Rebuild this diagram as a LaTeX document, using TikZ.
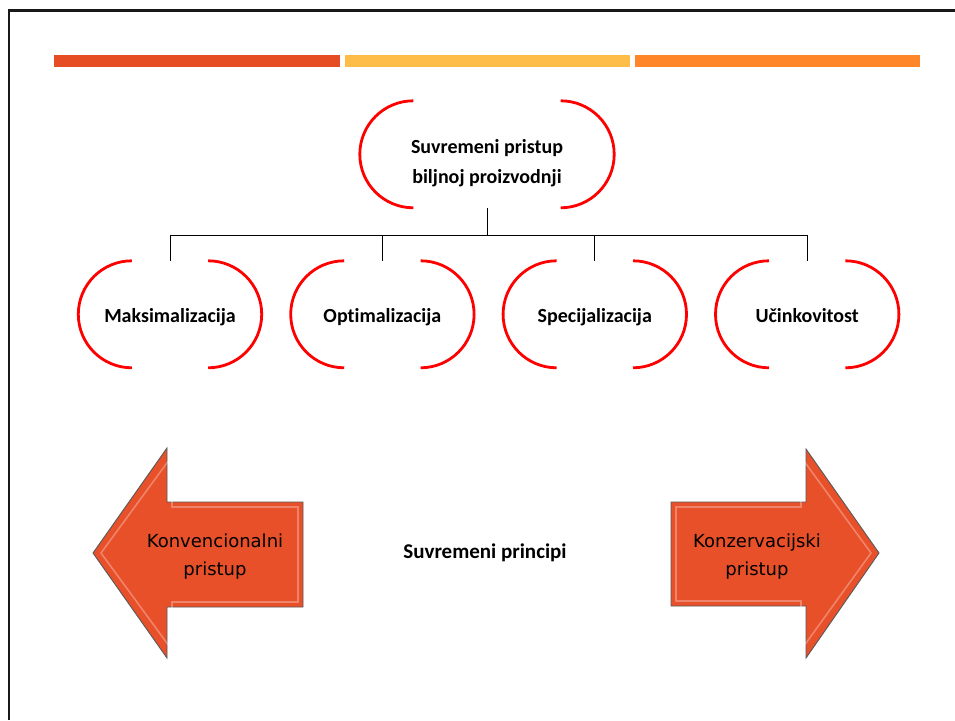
\documentclass[tikz,border=0pt]{standalone}
\usepackage{fontspec}
\setmainfont{Carlito}[RawFeature=-liga]
\newfontfamily\arrowfont{DejaVu Sans}
\usetikzlibrary{positioning}

\definecolor{barred}{HTML}{E64D25}
\definecolor{baryellow}{HTML}{FDBD48}
\definecolor{barorange}{HTML}{FF8629}
\definecolor{arrowfill}{HTML}{E8502A}

\begin{document}
\begin{tikzpicture}[x=1pt,y=1pt,
	approach/.style={minimum width=183pt,minimum height=107pt,inner sep=0pt,align=center,
		text height=20pt,text depth=4pt,font=\bfseries\fontsize{20}{30}\selectfont},
	bracket/.style={draw=red,line width=2.8pt},
	link/.style={draw=black,line width=0.8pt},
	arrowbody/.style={fill=arrowfill,draw=gray!70!black,line width=0.9pt},
	bevel/.style={draw=white,opacity=0.3,line width=1.6pt},
	arrowtext/.style={align=center,font=\arrowfont\fontsize{18}{28}\selectfont}]
	\useasboundingbox (0,0) rectangle (955,-720);
	% slide frame and colour bars
	\draw[line width=2.6pt,black!90] (9,-720) |- (955,-10.5);
	\fill[barred] (54,-55) rectangle (340,-67);
	\fill[baryellow] (345,-55) rectangle (630,-67);
	\fill[barorange] (635,-55) rectangle (920,-67);
	% tree
	\node[approach,minimum width=254pt,text height=58pt,text depth=0pt] (top) at (487,-154.5) {Suvremeni pristup\\biljnoj proizvodnji};
	\node[approach] (m1) at (170,-314.5) {Maksimalizacija};
	\node[approach,right=29pt of m1] (m2) {Optimalizacija};
	\node[approach,right=29pt of m2] (m3) {Specijalizacija};
	\node[approach,right=29pt of m3] (m4) {Učinkovitost};
	\foreach \n in {top,m1,m2,m3,m4}
		\draw[bracket] ([xshift=53.5pt]\n.north west) arc[start angle=90,end angle=270,radius=53.5pt]
			([xshift=-53.5pt]\n.north east) arc[start angle=90,end angle=-90,radius=53.5pt];
	\coordinate (bus) at (487,-235);
	\draw[link] (top.south) -- (bus);
	\foreach \n in {m1,m2,m3,m4}
		\draw[link] (\n.north) |- (bus);
	% arrows
	\draw[arrowbody] (93,-553) -- (167,-448) -- (167,-502) -- (303,-502) -- (303,-607) -- (167,-607) -- (167,-658) -- cycle;
	\draw[bevel] (101,-553) -- (172,-456) -- (172,-507) -- (298,-507) -- (298,-602) -- (172,-602) -- (172,-650) -- cycle;
	\draw[arrowbody] (879,-553) -- (806,-449) -- (806,-502) -- (671,-502) -- (671,-606) -- (806,-606) -- (806,-658) -- cycle;
	\draw[bevel] (871,-553) -- (801,-457) -- (801,-507) -- (676,-507) -- (676,-601) -- (801,-601) -- (801,-650) -- cycle;
	\node[arrowtext] (konv) at (215,-557) {Konvencionalni\\pristup};
	\node[arrowtext] (konz) at (757,-557) {Konzervacijski\\pristup};
	\node[font=\bfseries\fontsize{21}{24}\selectfont] (princ) at (485,-553) {Suvremeni principi};
\end{tikzpicture}
\end{document}
